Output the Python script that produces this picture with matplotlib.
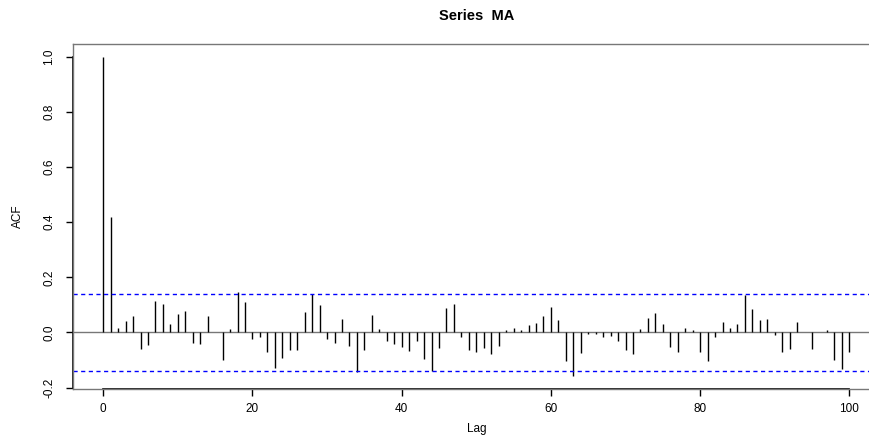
import numpy as np
import matplotlib
matplotlib.use("Agg")
import matplotlib.pyplot as plt

plt.rcParams["font.family"] = ["Liberation Sans", "DejaVu Sans"]
plt.rcParams["axes.unicode_minus"] = False

# sample autocorrelations, lags 0..100
lags = np.arange(0, 101)
acf = [
    1.000, 0.420, 0.017, 0.041, 0.061, -0.061, -0.044, 0.115, 0.103, 0.030,
    0.068, 0.079, -0.039, -0.042, 0.061, 0.003, -0.099, 0.012, 0.147, 0.109,
    -0.023, -0.017, -0.070, -0.127, -0.093, -0.064, -0.064, 0.073, 0.139, 0.101,
    -0.024, -0.039, 0.048, -0.048, -0.144, -0.062, 0.064, 0.012, -0.030, -0.042,
    -0.051, -0.067, -0.032, -0.095, -0.138, -0.058, 0.087, 0.104, -0.017, -0.062,
    -0.069, -0.055, -0.078, -0.050, 0.008, 0.015, 0.008, 0.027, 0.035, 0.058,
    0.093, 0.045, -0.104, -0.159, -0.076, -0.005, -0.006, -0.015, -0.011, -0.032,
    -0.062, -0.078, 0.013, 0.053, 0.069, 0.029, -0.051, -0.069, 0.017, 0.010,
    -0.069, -0.104, -0.018, 0.039, 0.018, 0.030, 0.137, 0.086, 0.046, 0.048,
    -0.010, -0.072, -0.061, 0.038, 0.002, -0.061, 0.001, 0.008, -0.098, -0.132,
    -0.070,
]
n_obs = 200
ci = 1.96 / np.sqrt(n_obs)

xticks = [0, 20, 40, 60, 80, 100]
yticks = [-0.2, 0.0, 0.2, 0.4, 0.6, 0.8, 1.0]

fig = plt.figure(figsize=(8.69, 4.37), dpi=100)
# box runs past the right edge of the image, as in the source
ax = fig.add_axes([0.0844, 0.1098, 0.9274, 0.7895])

ax.axhline(0, color="#777777", lw=1)
ax.vlines(lags, 0, acf, color="black", lw=1)
ax.axhline(ci, color="blue", lw=1, ls=(0, (3, 2.5)))
ax.axhline(-ci, color="blue", lw=1, ls=(0, (3, 2.5)))

ax.set_xlim(-4, 104)
ax.set_ylim(-0.205, 1.046)

for s in ax.spines.values():
    s.set_color("#777777")
    s.set_linewidth(1)
ax.spines["right"].set_visible(False)

# axis lines over the tick range only
ax.plot([0, 100], [-0.205, -0.205], color="black", lw=1.2, clip_on=False)
ax.plot([-4, -4], [-0.2, 1.0], color="black", lw=1.2, clip_on=False)

ax.set_xticks(xticks)
ax.set_xticklabels([str(t) for t in xticks])
ax.set_yticks(yticks)
ax.set_yticklabels(["%.1f" % t for t in yticks], rotation=90, va="center")
ax.tick_params(axis="both", length=5, width=1, color="black", labelsize=8.5)
ax.tick_params(axis="x", pad=5)
ax.tick_params(axis="y", pad=8)

ax.set_xlabel("Lag", fontsize=8.5, labelpad=6)
ax.set_ylabel("ACF", fontsize=8.5, labelpad=14)
ax.set_title("Series  MA", fontsize=10.5, fontweight="bold", pad=17)

fig.savefig("out.png", dpi=100)
